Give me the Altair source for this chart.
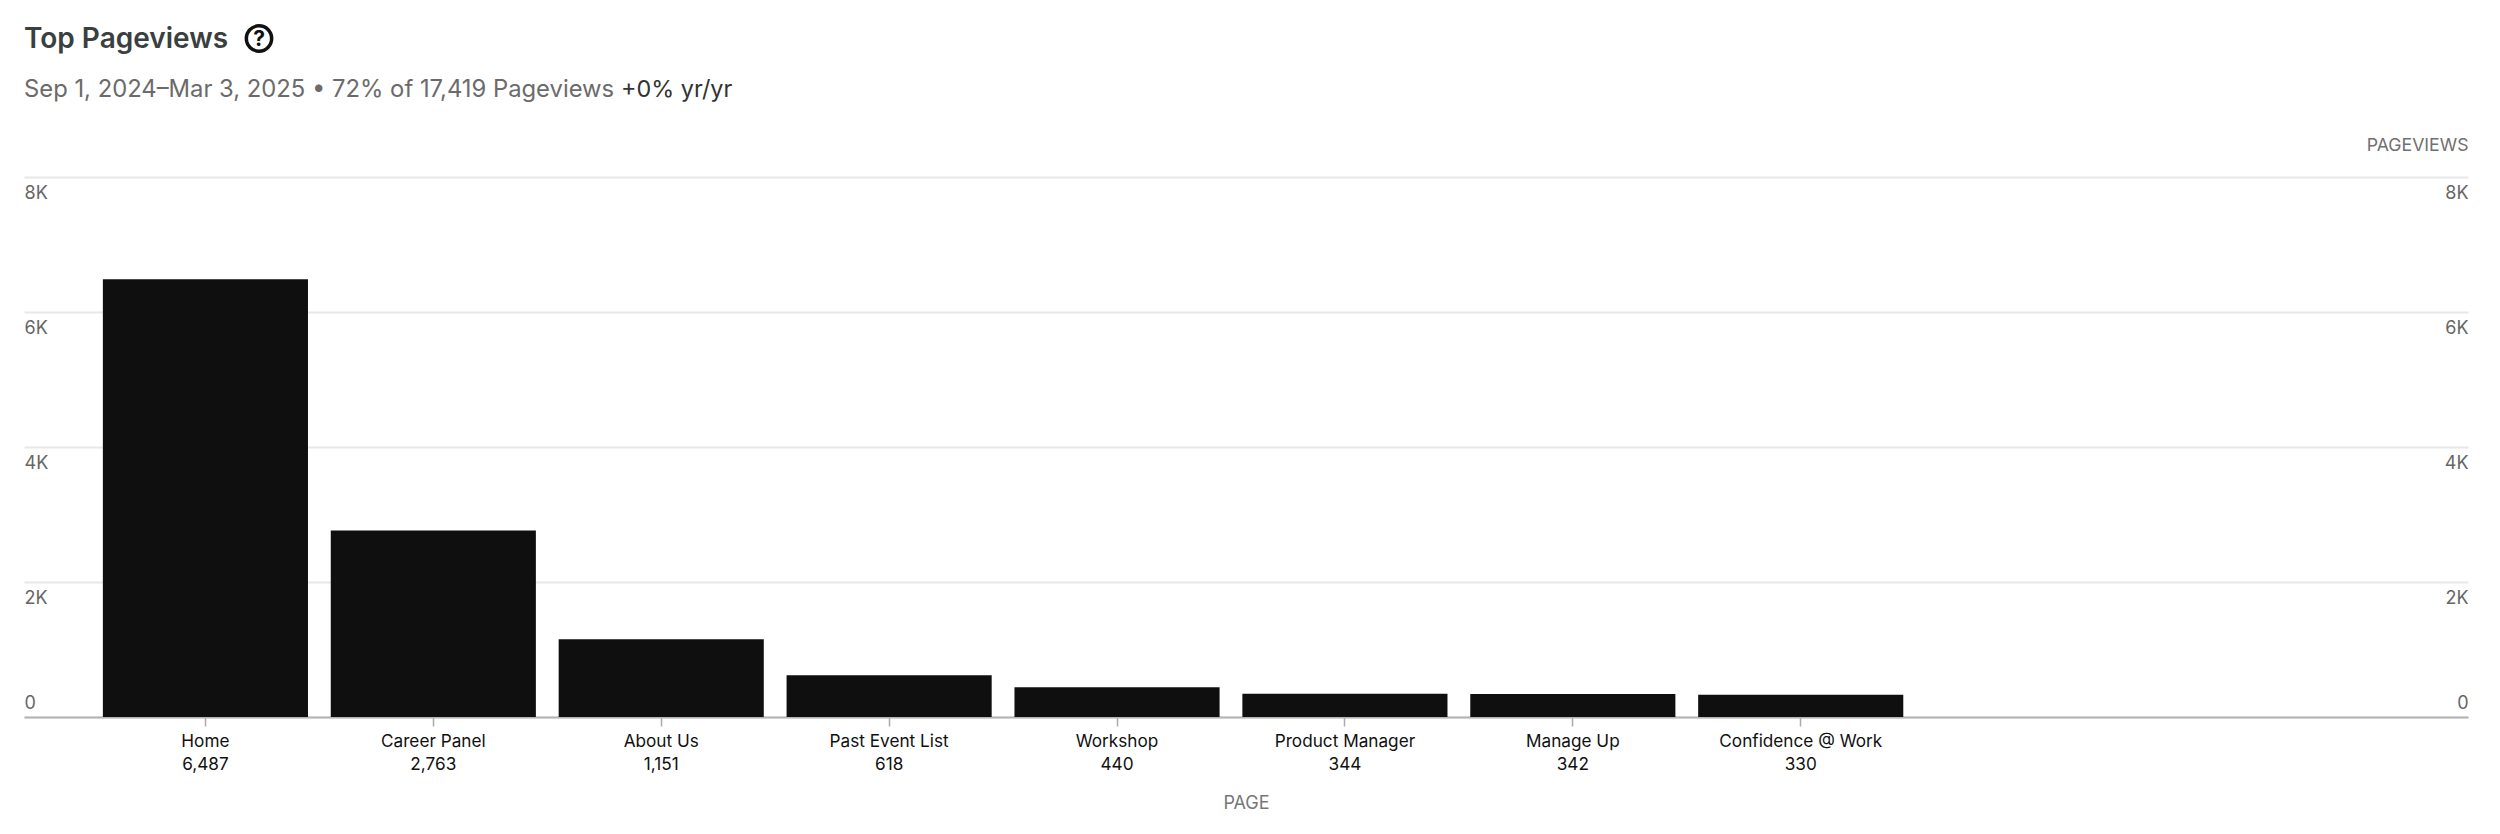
import altair as alt
import pandas as pd

pages = ["Home", "Career Panel", "About Us", "Past Event List", "Workshop",
         "Product Manager", "Manage Up", "Confidence @ Work"]
views = [6487, 2763, 1151, 618, 440, 344, 342, 330]
y_ticks = [0, 2000, 4000, 6000, 8000]
empty_slots = [" ", "  "]

title_text = "Top Pageviews"
sub_text = "Sep 1, 2024–Mar 3, 2025 • 72% of 17,419 Pageviews"
yoy_text = "+0% yr/yr"

FONT = "Inter"
keys = [f"{p}\n{v:,}" for p, v in zip(pages, views)]
df = pd.DataFrame({"key": keys, "views": views})

x_enc = alt.X("key:N", sort=None,
    scale=alt.Scale(domain=keys + empty_slots, paddingInner=0.1, paddingOuter=0.412, align=0.42),
    axis=alt.Axis(values=keys, title="PAGE", titleFont=FONT, titleFontSize=18, titleFontWeight="normal",
                  titleColor="#777777", titlePadding=22,
                  labelExpr="split(datum.label, '\\n')", labelFont=FONT, labelFontSize=17.2,
                  labelColor="#111111", labelAngle=0, labelPadding=6, labelLineHeight=23,
                  labelBaseline="top",
                  tickColor="#aaaaaa", tickSize=9, tickWidth=1.5,
                  domainColor="#b4b4b4", domainWidth=2, grid=False))

label_expr = "datum.value == 0 ? '0' : (datum.value / 1000) + 'K'"
baseline_expr = "datum.value == 0 ? 'bottom' : 'top'"
offset_expr = "datum.value == 0 ? -5 : 7"

def y_axis(orient, align, **extra):
    return alt.Axis(orient=orient, values=y_ticks, labelExpr=label_expr, labelAlign=align,
                    labelPadding=0, labelFont=FONT, labelFontSize=18, labelColor="#666666",
                    labelBaseline=alt.expr(baseline_expr), labelOffset=alt.expr(offset_expr),
                    tickSize=0, ticks=False, domain=False, labelOverlap=False, **extra)

bars = alt.Chart(df).mark_bar(color="#0f0f0f").encode(
    x=x_enc,
    y=alt.Y("views:Q", scale=alt.Scale(domain=[0, 8000], nice=False),
            axis=y_axis("left", "left", title=None, grid=True, gridColor="#e8e8e8", gridWidth=2)),
)
right = alt.Chart(df).mark_bar(opacity=0).encode(
    x=x_enc,
    y=alt.Y("views:Q", scale=alt.Scale(domain=[0, 8000], nice=False),
            axis=y_axis("right", "right", title="PAGEVIEWS", titleFont=FONT, titleFontSize=17.7,
                        titleFontWeight="normal", titleColor="#707070", titleAngle=0,
                        titleAlign="right", titleBaseline="middle", titleX=0, titleY=-32, grid=False)),
)

def header(text, px, py, size, color, weight="normal", align="left"):
    return alt.Chart(pd.DataFrame({"t": [text]})).mark_text(
        font=FONT, fontSize=size, color=color, fontWeight=weight, align=align, baseline="alphabetic"
    ).encode(text="t:N", x=alt.value(px - 24), y=alt.value(py - 177))

ring = alt.Chart(pd.DataFrame({"t": ["?"]})).mark_point(
    shape="circle", filled=False, size=640, stroke="#111111", strokeWidth=3.5, opacity=1
).encode(x=alt.value(259 - 24), y=alt.value(38.5 - 177))

chart = alt.layer(
    bars, right,
    header(title_text, 24, 48, 28, "#3a3f3f", 600),
    ring,
    header("?", 259, 46, 21, "#111111", 700, "center"),
    header(sub_text, 24, 97, 23.8, "#6b6b6b"),
    header(yoy_text, 621, 97, 23.4, "#333333"),
).resolve_axis(y="independent").properties(
    width=2444, height=540, background="#ffffff",
    autosize=alt.AutoSizeParams(type="none"),
    padding={"left": 16, "top": 169, "right": 16, "bottom": 100},
).configure_view(stroke=None)

chart.save("out.html", embed_options={"renderer": "svg", "actions": False})
